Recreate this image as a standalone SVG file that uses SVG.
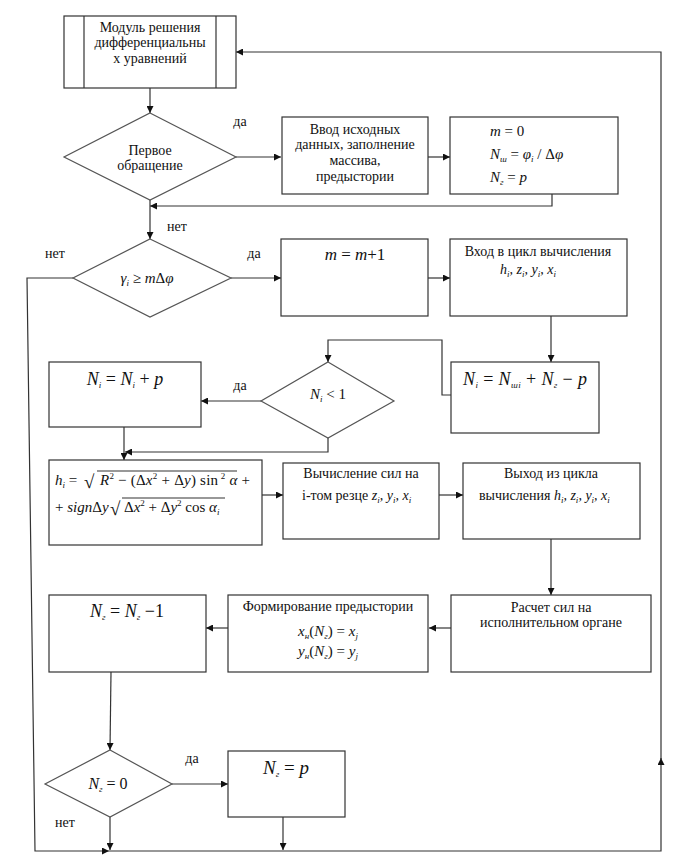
<svg xmlns="http://www.w3.org/2000/svg" width="681" height="861" viewBox="0 0 681 861">
<style>
.box{fill:#fff;stroke:#333;stroke-width:1.2}
.dia{fill:#fff;stroke:#555;stroke-width:1.2}
.c{fill:none;stroke:#333;stroke-width:1.2}
.t{font-family:"Liberation Serif","Times New Roman",serif;font-size:14px;fill:#111;text-anchor:middle}
.s{text-anchor:start}
.m{font-family:"Liberation Serif","Times New Roman",serif;font-style:italic;fill:#111}
.n{font-style:normal}
.sub{font-size:9px}
</style>
<defs>
<marker id="a" viewBox="0 0 10 10" refX="10" refY="5" markerWidth="8" markerHeight="7" markerUnits="userSpaceOnUse" orient="auto">
<path d="M0,0 L10,5 L0,10 z" fill="#111"/>
</marker>
</defs>
<rect width="681" height="861" fill="#fff"/>

<g id="connectors">
<path class="c" d="M150,88 V113" marker-end="url(#a)"/>
<path class="c" d="M236,157 H281" marker-end="url(#a)"/>
<path class="c" d="M428,157 H450" marker-end="url(#a)"/>
<path class="c" d="M552,194 V206 H150" marker-end="url(#a)"/>
<path class="c" d="M150,200 V239" marker-end="url(#a)"/>
<path class="c" d="M231,278 H281" marker-end="url(#a)"/>
<path class="c" d="M428,278 H450" marker-end="url(#a)"/>
<path class="c" d="M551,316 V362" marker-end="url(#a)"/>
<path class="c" d="M451,395 H442 V340 H328 V362" marker-end="url(#a)"/>
<path class="c" d="M261,401 H201" marker-end="url(#a)"/>
<path class="c" d="M124,427 V460" marker-end="url(#a)"/>
<path class="c" d="M328,438 V452 H125" marker-end="url(#a)"/>
<path class="c" d="M262,495 H283" marker-end="url(#a)"/>
<path class="c" d="M439,495 H463" marker-end="url(#a)"/>
<path class="c" d="M551,539 V595" marker-end="url(#a)"/>
<path class="c" d="M451,628 H429" marker-end="url(#a)"/>
<path class="c" d="M228,628 H206" marker-end="url(#a)"/>
<path class="c" d="M111,672 L110,750" marker-end="url(#a)"/>
<path class="c" d="M172,784 H228" marker-end="url(#a)"/>
<path class="c" d="M110,817 V850" marker-end="url(#a)"/>
<path class="c" d="M283,817 V850" marker-end="url(#a)"/>
<path class="c" d="M73,278 H27 L35,851 H109" marker-end="url(#a)"/>
<path class="c" d="M109,851 H661 V758" marker-end="url(#a)"/>
<path class="c" d="M661,760 V52 H236" marker-end="url(#a)"/>
</g>

<g id="n_module">
<rect class="box" x="64" y="16" width="172" height="72"/>
<line class="c" x1="84" y1="16" x2="84" y2="88"/>
<line class="c" x1="216" y1="16" x2="216" y2="88"/>
<text class="t" x="150" y="32">Модуль решения</text>
<text class="t" x="150" y="47">дифференциальны</text>
<text class="t" x="150" y="63">х уравнений</text>
</g>

<g id="n_first">
<polygon class="dia" points="150,113 236,157 150,200 64,157"/>
<text class="t" x="150" y="155">Первое</text>
<text class="t" x="150" y="170">обращение</text>
<text class="t" x="240" y="126">да</text>
<text class="t" x="177" y="231">нет</text>
</g>

<g id="n_input">
<rect class="box" x="282" y="117" width="146" height="77"/>
<text class="t" x="355" y="134">Ввод исходных</text>
<text class="t" x="355" y="149">данных, заполнение</text>
<text class="t" x="355" y="165">массива,</text>
<text class="t" x="355" y="181">предыстории</text>
</g>

<g id="n_init">
<rect class="box" x="450" y="117" width="168" height="77"/>
<text class="m" x="490" y="136" font-size="15">m<tspan class="n"> = 0</tspan></text>
<text class="m" x="490" y="159" font-size="15">N<tspan class="sub" dy="3">ш</tspan><tspan dy="-3" class="n"> = </tspan>φ<tspan class="sub" dy="3">i</tspan><tspan dy="-3" class="n"> / Δ</tspan>φ</text>
<text class="m" x="490" y="182" font-size="15">N<tspan class="sub" dy="3">г</tspan><tspan dy="-3" class="n"> = </tspan>p</text>
</g>

<g id="n_gamma">
<polygon class="dia" points="150,239 231,278 150,317 73,278"/>
<text class="m" x="147" y="283" font-size="15" text-anchor="middle">γ<tspan class="sub" dy="3">i</tspan><tspan dy="-3" class="n"> ≥ </tspan>m<tspan class="n">Δ</tspan>φ</text>
<text class="t" x="55" y="258">нет</text>
<text class="t" x="254" y="258">да</text>
</g>

<g id="n_minc">
<rect class="box" x="281" y="239" width="147" height="77"/>
<text class="m" x="355" y="260" font-size="17" text-anchor="middle">m<tspan class="n"> = </tspan>m<tspan class="n">+1</tspan></text>
</g>

<g id="n_loopin">
<rect class="box" x="450" y="239" width="177" height="77"/>
<text class="t" x="538" y="256">Вход в цикл вычисления</text>
<text class="m" x="528" y="274" font-size="14" text-anchor="middle">h<tspan class="sub" dy="3">i</tspan><tspan dy="-3">, z</tspan><tspan class="sub" dy="3">i</tspan><tspan dy="-3">, y</tspan><tspan class="sub" dy="3">i</tspan><tspan dy="-3">, x</tspan><tspan class="sub" dy="3">i</tspan></text>
</g>

<g id="n_ni">
<rect class="box" x="451" y="362" width="148" height="71"/>
<text class="m" x="463" y="385" font-size="18" textLength="124" lengthAdjust="spacing">N<tspan class="sub" dy="3">i</tspan><tspan dy="-3" class="n"> = </tspan>N<tspan class="sub" dy="3">шi</tspan><tspan dy="-3" class="n"> + </tspan>N<tspan class="sub" dy="3">г</tspan><tspan dy="-3" class="n"> − </tspan>p</text>
</g>

<g id="n_nlt1">
<polygon class="dia" points="328,362 394,401 328,438 261,401"/>
<text class="m" x="328" y="399" font-size="15" text-anchor="middle">N<tspan class="sub" dy="3">i</tspan><tspan dy="-3" class="n"> &lt; 1</tspan></text>
<text class="t" x="240" y="390">да</text>
</g>

<g id="n_nip">
<rect class="box" x="49" y="362" width="152" height="65"/>
<text class="m" x="125" y="385" font-size="18" text-anchor="middle">N<tspan class="sub" dy="3">i</tspan><tspan dy="-3" class="n"> = </tspan>N<tspan class="sub" dy="3">i</tspan><tspan dy="-3" class="n"> + </tspan>p</text>
</g>

<g id="n_formula">
<rect class="box" x="49" y="460" width="213" height="85"/>
<text class="m" x="55" y="485" font-size="15">h<tspan class="sub" dy="3">i</tspan><tspan dy="-3" class="n"> =</tspan></text>
<text class="m n" x="84" y="488" font-size="19">√</text>
<text class="m" x="100" y="485" font-size="15" textLength="150" lengthAdjust="spacing">R<tspan font-size="9" dy="-6" class="n">2</tspan><tspan dy="6" class="n"> − (Δ</tspan>x<tspan font-size="9" dy="-6" class="n">2</tspan><tspan dy="6" class="n"> + Δ</tspan>y<tspan class="n">) sin</tspan><tspan font-size="9" dy="-6" class="n"> 2</tspan><tspan dy="6"> α</tspan><tspan class="n"> +</tspan></text>
<line class="c" x1="97" y1="471" x2="237" y2="471"/>
<text class="m" x="55" y="512" font-size="15"><tspan class="n">+ </tspan>sign<tspan class="n">Δ</tspan>y</text>
<text class="m n" x="110" y="515" font-size="19">√</text>
<text class="m" x="124" y="512" font-size="15"><tspan class="n">Δ</tspan>x<tspan font-size="9" dy="-6" class="n">2</tspan><tspan dy="6" class="n"> + Δ</tspan>y<tspan font-size="9" dy="-6" class="n">2</tspan><tspan dy="6" class="n"> cos </tspan>α<tspan class="sub" dy="3">i</tspan></text>
<line class="c" x1="122" y1="498" x2="225" y2="498"/>
</g>

<g id="n_forces">
<rect class="box" x="283" y="463" width="156" height="76"/>
<text class="t" x="361" y="478">Вычисление сил на</text>
<text class="t s" x="302" y="500">i-том резце  <tspan class="m" font-size="14">z<tspan class="sub" dy="3">i</tspan><tspan dy="-3">, y</tspan><tspan class="sub" dy="3">i</tspan><tspan dy="-3">, x</tspan><tspan class="sub" dy="3">i</tspan></tspan></text>
</g>

<g id="n_loopout">
<rect class="box" x="463" y="463" width="177" height="76"/>
<text class="t" x="551" y="478">Выход из цикла</text>
<text class="t s" x="479" y="500">вычисления  <tspan class="m" font-size="14">h<tspan class="sub" dy="3">i</tspan><tspan dy="-3">, z</tspan><tspan class="sub" dy="3">i</tspan><tspan dy="-3">, y</tspan><tspan class="sub" dy="3">i</tspan><tspan dy="-3">, x</tspan><tspan class="sub" dy="3">i</tspan></tspan></text>
</g>

<g id="n_calc">
<rect class="box" x="451" y="595" width="200" height="77"/>
<text class="t" x="551" y="612">Расчет сил на</text>
<text class="t" x="551" y="627">исполнительном органе</text>
</g>

<g id="n_history">
<rect class="box" x="228" y="595" width="200" height="77"/>
<text class="t" x="328" y="611">Формирование предыстории</text>
<text class="m" x="328" y="636" font-size="15" text-anchor="middle">x<tspan class="sub" dy="3">н</tspan><tspan dy="-3" class="n">(</tspan>N<tspan class="sub" dy="3">г</tspan><tspan dy="-3" class="n">) = </tspan>x<tspan class="sub" dy="3">j</tspan></text>
<text class="m" x="328" y="656" font-size="15" text-anchor="middle">y<tspan class="sub" dy="3">н</tspan><tspan dy="-3" class="n">(</tspan>N<tspan class="sub" dy="3">г</tspan><tspan dy="-3" class="n">) = </tspan>y<tspan class="sub" dy="3">j</tspan></text>
</g>

<g id="n_ndec">
<rect class="box" x="49" y="595" width="157" height="77"/>
<text class="m" x="127" y="617" font-size="18" text-anchor="middle">N<tspan class="sub" dy="3">г</tspan><tspan dy="-3" class="n"> = </tspan>N<tspan class="sub" dy="3">г</tspan><tspan dy="-3" class="n"> −1</tspan></text>
</g>

<g id="n_nzero">
<polygon class="dia" points="110,750 172,784 110,817 45,784"/>
<text class="m" x="108" y="789" font-size="16" text-anchor="middle">N<tspan class="sub" dy="3">г</tspan><tspan dy="-3" class="n"> = 0</tspan></text>
<text class="t" x="192" y="763">да</text>
<text class="t" x="65" y="827">нет</text>
</g>

<g id="n_nreset">
<rect class="box" x="228" y="751" width="117" height="66"/>
<text class="m" x="286" y="774" font-size="19" text-anchor="middle">N<tspan class="sub" dy="3">г</tspan><tspan dy="-3" class="n"> = </tspan>p</text>
</g>
</svg>
